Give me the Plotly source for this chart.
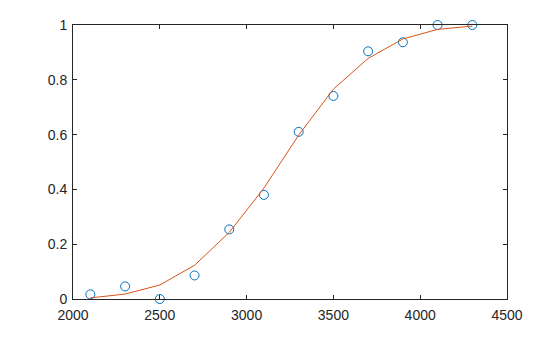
import plotly.graph_objects as go

x_vals = [2100, 2300, 2500, 2700, 2900, 3100, 3300, 3500, 3700, 3900, 4100, 4300]
observed = [0.017, 0.046, 0.0, 0.086, 0.254, 0.38, 0.61, 0.741, 0.904, 0.937, 1.0, 1.0]
fitted = [0.004, 0.018, 0.051, 0.123, 0.243, 0.405, 0.598, 0.766, 0.878, 0.949, 0.984, 0.996]
x_ticks = [2000, 2500, 3000, 3500, 4000, 4500]
y_ticks = [0, 0.2, 0.4, 0.6, 0.8, 1]
y_tick_text = ["0", "0.2", "0.4", "0.6", "0.8", "1"]

fig = go.Figure()
fig.add_trace(go.Scatter(x=x_vals, y=observed, mode="markers",
                         marker=dict(symbol="circle-open", size=9, color="#0072BD",
                                     line=dict(width=1, color="#0072BD")),
                         cliponaxis=False, showlegend=False))
fig.add_trace(go.Scatter(x=x_vals, y=fitted, mode="lines",
                         line=dict(color="#D95319", width=1),
                         cliponaxis=False, showlegend=False))

axis_common = dict(showgrid=False, zeroline=False, showline=True, linecolor="#262626",
                   linewidth=1, mirror="ticks", ticks="inside", ticklen=4,
                   tickcolor="#262626", tickfont=dict(family="Liberation Sans, Arial", size=14,
                                                      color="#262626"))
fig.update_xaxes(range=[2000, 4500], tickvals=x_ticks, ticklabelstandoff=3, **axis_common)
fig.update_yaxes(range=[0, 1], tickvals=y_ticks, ticktext=y_tick_text, ticklabelstandoff=2,
                 **axis_common)
fig.update_layout(width=560, height=337, margin=dict(l=73, r=53, t=25, b=38),
                  plot_bgcolor="white", paper_bgcolor="white")
fig.write_html("out.html")
